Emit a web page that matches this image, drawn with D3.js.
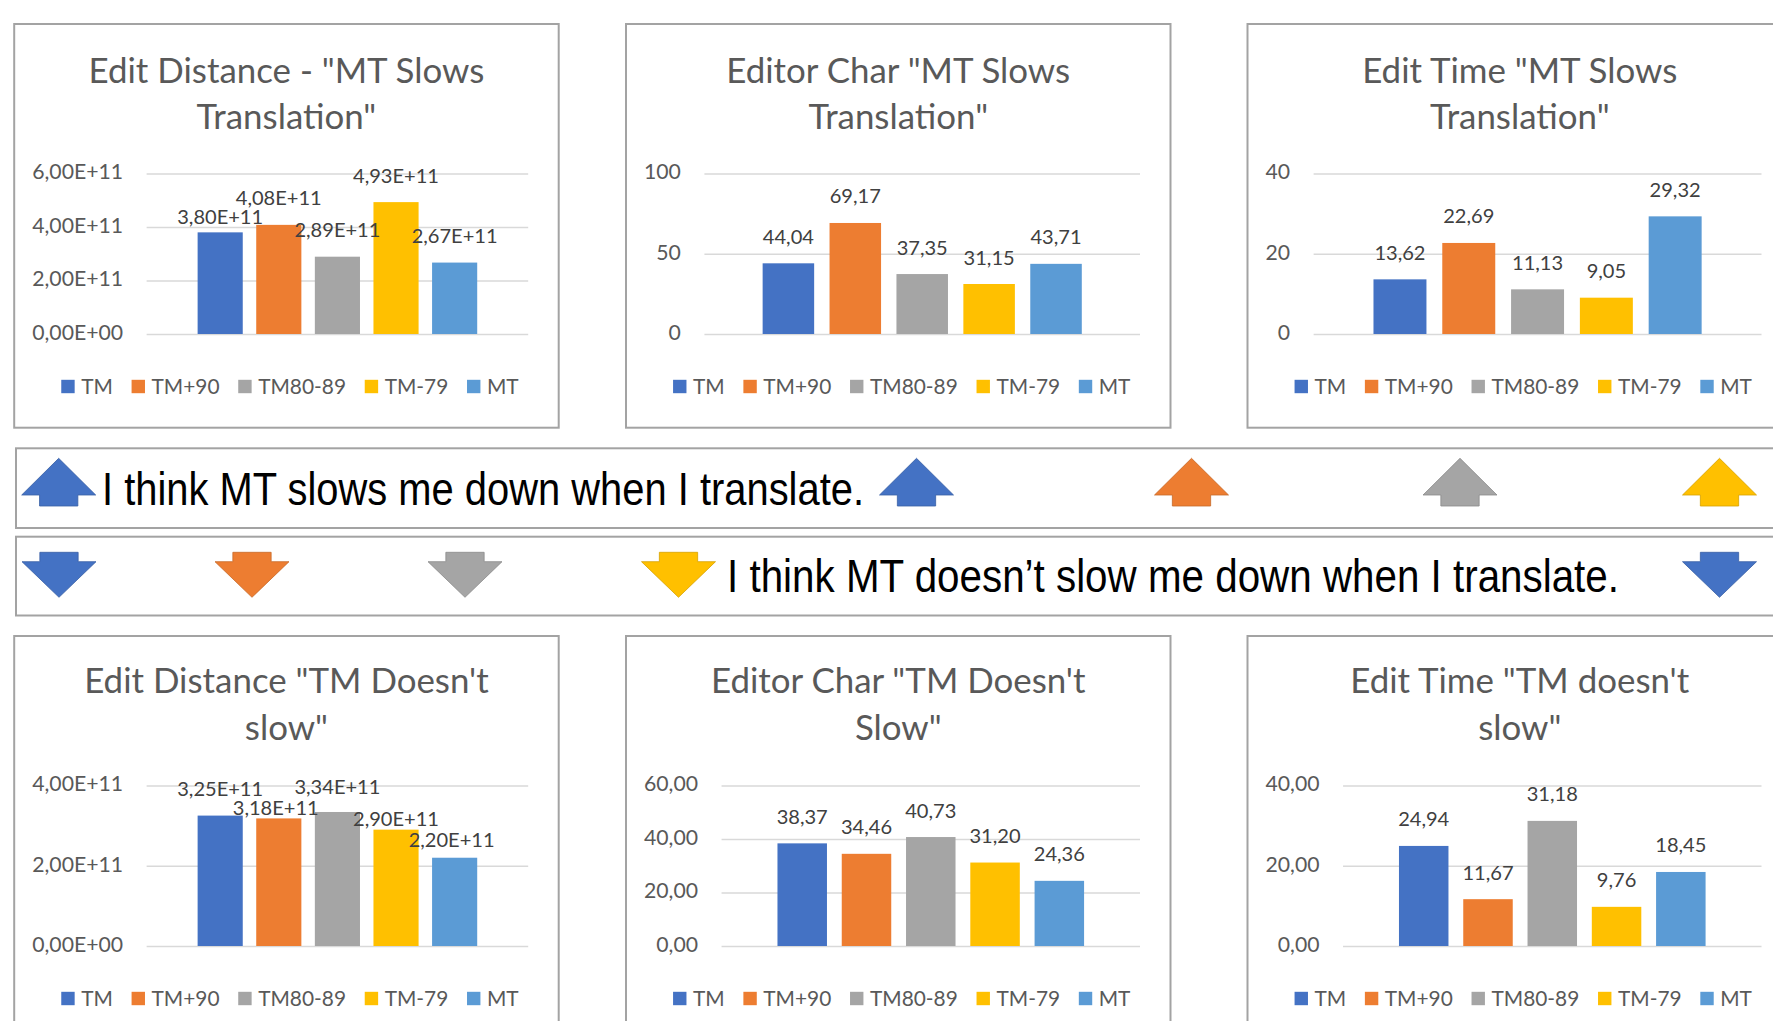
<!DOCTYPE html>
<html><head><meta charset="utf-8">
<script src="https://cdn.jsdelivr.net/npm/d3@7"></script>
<style>body{margin:0;background:#fff}svg{display:block}</style>
</head><body><svg id="c" width="1773" height="1021"></svg>
<script>
// ---------------- DATA ----------------
const series = ["TM", "TM+90", "TM80-89", "TM-79", "MT"];
const seriesColors = ["#4472C4", "#ED7D31", "#A5A5A5", "#FFC000", "#5B9BD5"];

const editDistanceSlows   = [3.80e11, 4.08e11, 2.89e11, 4.93e11, 2.67e11];
const editorCharSlows     = [44.04, 69.17, 37.35, 31.15, 43.71];
const editTimeSlows       = [13.62, 22.69, 11.13, 9.05, 29.32];
const editDistanceNotSlow = [3.25e11, 3.18e11, 3.34e11, 2.90e11, 2.20e11];
const editorCharNotSlow   = [38.37, 34.46, 40.73, 31.20, 24.36];
const editTimeNotSlow     = [24.94, 11.67, 31.18, 9.76, 18.45];

const ticksSci6 = [0, 2e11, 4e11, 6e11];
const tickLabelsSci6 = ["0,00E+00", "2,00E+11", "4,00E+11", "6,00E+11"];
const ticksSci4 = [0, 2e11, 4e11];
const tickLabelsSci4 = ["0,00E+00", "2,00E+11", "4,00E+11"];
const ticks100 = [0, 50, 100];
const tickLabels100 = ["0", "50", "100"];
const ticks40 = [0, 20, 40];
const tickLabels40 = ["0", "20", "40"];
const ticks60dec = [0, 20, 40, 60];
const tickLabels60dec = ["0,00", "20,00", "40,00", "60,00"];
const ticks40dec = [0, 20, 40];
const tickLabels40dec = ["0,00", "20,00", "40,00"];

const titleEditDistanceSlows   = ["Edit Distance - \"MT Slows", "Translation\""];
const titleEditorCharSlows     = ["Editor Char \"MT Slows", "Translation\""];
const titleEditTimeSlows       = ["Edit Time \"MT Slows", "Translation\""];
const titleEditDistanceNotSlow = ["Edit Distance \"TM Doesn't", "slow\""];
const titleEditorCharNotSlow   = ["Editor Char \"TM Doesn't", "Slow\""];
const titleEditTimeNotSlow     = ["Edit Time \"TM doesn't", "slow\""];

const statementSlows = "I think MT slows me down when I translate.";
const statementNotSlow = "I think MT doesn\u2019t slow me down when I translate.";
const upArrowSeries = ["TM", "TM", "TM+90", "TM80-89", "TM-79"];
const downArrowSeries = ["TM", "TM+90", "TM80-89", "TM-79", "TM"];

// ---------------- FORMATTERS ----------------
function fmtSci(v) {
  if (v === 0) return "0,00E+00";
  const e = Math.floor(Math.log10(v));
  const m = v / Math.pow(10, e);
  return m.toFixed(2).replace(".", ",") + "E+" + String(e).padStart(2, "0");
}
function fmtDec(v) { return v.toFixed(2).replace(".", ","); }

// ---------------- LAYOUT ----------------
const svg = d3.select("#c");
const color = d3.scaleOrdinal().domain(series).range(seriesColors);
const FONT = "Lato, 'Open Sans', sans-serif";
const NARROW = "'Liberation Sans Narrow', 'Arial Narrow', 'Liberation Sans', Arial, sans-serif";

function fitSize(str, family, targetW) {
  const t = svg.append("text").attr("font-family", family).attr("font-size", 100).text(str);
  const w = t.node().getComputedTextLength();
  t.remove();
  return 100 * targetW / w;
}
const titleSize  = fitSize("Edit Distance - \"MT Slows", FONT, 396);
const tickSize   = fitSize("6,00E+11", FONT, 91);
const labelSize  = fitSize("3,80E+11", FONT, 86);
const legendSize = fitSize("TM80-89", FONT, 88);

const panelW = 544.5, panelH = 403.7;
const colX = [14.2, 626, 1247.5];
const rowY = [24, 636];

const panels = [
  {title: titleEditDistanceSlows, values: editDistanceSlows, ticks: ticksSci6, tickLabels: tickLabelsSci6, fmt: fmtSci, col: 0, row: 0,
   nudge: [[0, 11], [0, 0], [0, 0], [0, 0], [0, 0]]},
  {title: titleEditorCharSlows, values: editorCharSlows, ticks: ticks100, tickLabels: tickLabels100, fmt: fmtDec, col: 1, row: 0},
  {title: titleEditTimeSlows, values: editTimeSlows, ticks: ticks40, tickLabels: tickLabels40, fmt: fmtDec, col: 2, row: 0},
  {title: titleEditDistanceNotSlow, values: editDistanceNotSlow, ticks: ticksSci4, tickLabels: tickLabelsSci4, fmt: fmtSci, col: 0, row: 1,
   nudge: [[0, 0], [-3, 15.6], [0, 2], [0, 16], [-3, 8.7]]},
  {title: titleEditorCharNotSlow, values: editorCharNotSlow, ticks: ticks60dec, tickLabels: tickLabels60dec, fmt: fmtDec, col: 1, row: 1},
  {title: titleEditTimeNotSlow, values: editTimeNotSlow, ticks: ticks40dec, tickLabels: tickLabels40dec, fmt: fmtDec, col: 2, row: 1},
];
const titleBase = [58.7, 57.2];

function measure(str, family, size) {
  const t = svg.append("text").attr("font-family", family).attr("font-size", size).text(str);
  const w = t.node().getComputedTextLength();
  t.remove();
  return w;
}

panels.forEach(p => {
  const x0 = colX[p.col], y0 = rowY[p.row];
  const g = svg.append("g");
  g.append("rect").attr("x", x0).attr("y", y0).attr("width", panelW).attr("height", panelH)
    .attr("fill", "#fff").attr("stroke", "#a3a3a3").attr("stroke-width", 2);

  const cx = x0 + panelW / 2;
  g.selectAll("text.title").data(p.title).join("text").attr("class", "title")
    .attr("x", cx).attr("y", (d, i) => y0 + titleBase[p.row] + i * 46.7)
    .attr("text-anchor", "middle").attr("font-family", FONT).attr("font-size", titleSize)
    .attr("fill", "#595959").text(d => d);

  const maxTickW = d3.max(p.tickLabels, s => measure(s, FONT, tickSize));
  const plotL = x0 + 18 + maxTickW + 23.5;
  const plotR = x0 + panelW - 30.5;
  const plotT = y0 + 149.5, plotB = y0 + 310;

  const y = d3.scaleLinear().domain([0, d3.max(p.ticks)]).range([plotB, plotT]);
  const x = d3.scaleBand().domain(series).range([plotL, plotR]).paddingInner(0.23).paddingOuter(0.87);

  const axis = d3.axisLeft(y).tickValues(p.ticks).tickFormat((d, i) => p.tickLabels[i])
    .tickSize(-(plotR - plotL)).tickPadding(23.5);
  const ag = g.append("g").attr("transform", `translate(${plotL},0)`).call(axis);
  ag.select(".domain").remove();
  ag.selectAll(".tick line").attr("stroke", "#d9d9d9").attr("stroke-width", 1.4);
  ag.selectAll(".tick text").attr("font-family", FONT).attr("font-size", tickSize).attr("fill", "#595959")
    .attr("dy", "0.25em");

  g.selectAll("rect.bar").data(p.values).join("rect").attr("class", "bar")
    .attr("x", (d, i) => x(series[i])).attr("width", x.bandwidth())
    .attr("y", d => y(d)).attr("height", d => y(0) - y(d))
    .attr("fill", (d, i) => color(series[i]));

  g.selectAll("text.lbl").data(p.values).join("text").attr("class", "lbl")
    .attr("x", (d, i) => x(series[i]) + x.bandwidth() / 2 + (p.nudge ? p.nudge[i][0] : 0))
    .attr("y", (d, i) => y(d) - 19.5 + (p.nudge ? p.nudge[i][1] : 0))
    .attr("text-anchor", "middle").attr("font-family", FONT).attr("font-size", labelSize)
    .attr("fill", "#404040").text(d => p.fmt(d));

  // legend
  const sq = 13.4, gapT = 6.5, gapI = 18.7;
  const widths = series.map(s => measure(s, FONT, legendSize));
  const total = d3.sum(widths) + series.length * (sq + gapT) + (series.length - 1) * gapI;
  let lx = cx + 3.5 - total / 2;
  const ly = y0 + 362.5;
  series.forEach((s, i) => {
    g.append("rect").attr("x", lx).attr("y", ly - sq / 2).attr("width", sq).attr("height", sq).attr("fill", color(s));
    g.append("text").attr("x", lx + sq + gapT).attr("y", ly).attr("dy", "0.36em")
      .attr("font-family", FONT).attr("font-size", legendSize).attr("fill", "#595959").text(s);
    lx += sq + gapT + widths[i] + gapI;
  });
});

// ---------------- STATEMENT BANDS ----------------
const bands = [
  {y: 448.3, h: 79.7, text: statementSlows, tx: 102, tw: 762, ty: 505},
  {y: 536.7, h: 78.8, text: statementNotSlow, tx: 727, tw: 892, ty: 591.7},
];
bands.forEach(b => {
  svg.append("rect").attr("x", 16).attr("y", b.y).attr("width", 1790).attr("height", b.h)
    .attr("fill", "#fff").attr("stroke", "#a3a3a3").attr("stroke-width", 2);
  svg.append("text").attr("x", b.tx).attr("y", b.ty).attr("font-family", NARROW).attr("font-size", 46)
    .attr("textLength", b.tw).attr("lengthAdjust", "spacingAndGlyphs").attr("fill", "#000").text(b.text);
});

const arrowW = 74, stemW = 38.3;
const upArrowX = [21.7, 879.5, 1154.5, 1423, 1682.5];
const downArrowX = [22, 215, 428, 641.5, 1682.5];
function upPath(x) {
  const c = x + arrowW / 2;
  return `M${c},458.3 L${x + arrowW},495 L${c + stemW / 2},495 L${c + stemW / 2},506 L${c - stemW / 2},506 L${c - stemW / 2},495 L${x},495 Z`;
}
function downPath(x) {
  const c = x + arrowW / 2;
  return `M${c},597.3 L${x + arrowW},561.7 L${c + stemW / 2},561.7 L${c + stemW / 2},552.3 L${c - stemW / 2},552.3 L${c - stemW / 2},561.7 L${x},561.7 Z`;
}
svg.selectAll("path.up").data(upArrowSeries).join("path").attr("class", "up")
  .attr("d", (d, i) => upPath(upArrowX[i])).attr("fill", d => color(d))
  .attr("stroke", d => d3.color(color(d)).darker(0.5)).attr("stroke-width", 0.8);
svg.selectAll("path.down").data(downArrowSeries).join("path").attr("class", "down")
  .attr("d", (d, i) => downPath(downArrowX[i])).attr("fill", d => color(d))
  .attr("stroke", d => d3.color(color(d)).darker(0.5)).attr("stroke-width", 0.8);
</script></body></html>
